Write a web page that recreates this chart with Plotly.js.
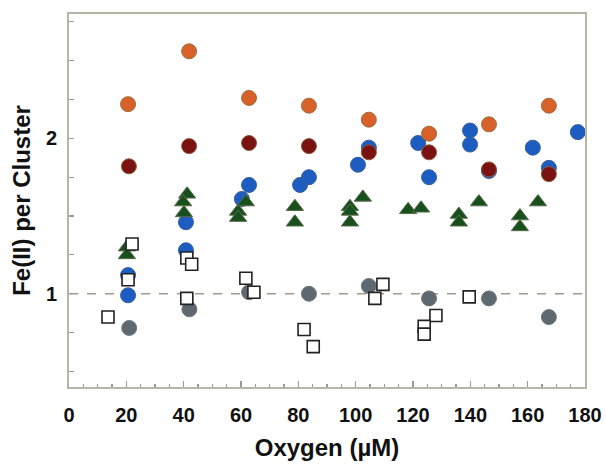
<!DOCTYPE html>
<html>
<head>
<meta charset="utf-8">
<script src="https://cdn.plot.ly/plotly-3.0.1.min.js"></script>
<style>html,body{margin:0;padding:0;background:#fff;}#chart{width:606px;height:464px;}</style>
</head>
<body>
<div id="chart"></div>
<script>
// Oxygen (µM) vs Fe(II) per cluster, by series
const orangeX = [20.6, 41.9, 62.8, 83.7, 104.6, 125.6, 146.5, 167.4];
const orangeY = [2.22, 2.56, 2.26, 2.21, 2.12, 2.03, 2.09, 2.21];

const darkRedX = [20.9, 41.9, 62.8, 83.7, 104.6, 125.6, 146.5, 167.4];
const darkRedY = [1.82, 1.95, 1.97, 1.95, 1.91, 1.91, 1.80, 1.77];

const blueX = [20.6, 20.6, 40.8, 40.8, 60.3, 62.8, 80.6, 83.7, 100.8, 104.6, 121.8, 125.6, 139.9, 139.9, 146.5, 161.8, 167.4, 177.5];
const blueY = [1.12, 0.99, 1.46, 1.28, 1.61, 1.70, 1.70, 1.75, 1.83, 1.94, 1.97, 1.75, 2.05, 1.96, 1.79, 1.94, 1.81, 2.04];

const greenX = [20.2, 20.2, 41.2, 39.8, 40.1, 59.0, 59.0, 61.7, 78.8, 78.8, 98.0, 98.0, 98.0, 102.5, 118.3, 122.8, 136.0, 136.0, 143.0, 157.3, 157.3, 163.6];
const greenY = [1.30, 1.25, 1.64, 1.59, 1.52, 1.53, 1.49, 1.59, 1.56, 1.46, 1.56, 1.53, 1.46, 1.62, 1.54, 1.55, 1.51, 1.46, 1.59, 1.50, 1.43, 1.59];

const grayX = [21.0, 42.0, 62.8, 83.7, 104.6, 125.6, 146.5, 167.4];
const grayY = [0.78, 0.90, 1.01, 1.00, 1.05, 0.97, 0.97, 0.85];

const squareX = [13.6, 22.0, 20.6, 41.1, 42.8, 41.1, 61.7, 64.5, 82.0, 85.2, 109.5, 106.7, 128.0, 123.9, 123.9, 139.6];
const squareY = [0.85, 1.32, 1.09, 1.23, 1.19, 0.97, 1.10, 1.01, 0.77, 0.66, 1.06, 0.97, 0.86, 0.79, 0.74, 0.98];

const xTickVals = [0, 20, 40, 60, 80, 100, 120, 140, 160, 180];
const yTickVals = [1, 2];
const yTickText = ['1', '2'];

function pts(x, y, symbol, size, fill, line, lw) {
  return {x: x, y: y, type: 'scatter', mode: 'markers', hoverinfo: 'skip',
    marker: {symbol: symbol, size: size, color: fill, line: {color: line, width: lw}}};
}

const data = [
  pts(blueX, blueY, 'circle', 15, '#1d5cc0', '#3a5e9a', 1),
  pts(greenX, greenY, 'triangle-up', 15, '#17501d', '#5a6a4a', 1),
  pts(darkRedX, darkRedY, 'circle', 15, '#7a1212', '#8a5a3a', 1),
  pts(orangeX, orangeY, 'circle', 15, '#d8612a', '#9a7040', 1),
  pts(grayX, grayY, 'circle', 15, '#5d6870', '#6e7a80', 1),
  pts(squareX, squareY, 'square', 12, '#ffffff', '#222222', 1.6)
];

const axisColor = '#b6b6a6';
const font = {family: 'Liberation Sans, Arial, sans-serif', color: '#111', size: 20, weight: 'bold'};

const layout = {
  width: 606, height: 464,
  margin: {l: 69, r: 21, t: 14, b: 77},
  paper_bgcolor: '#fff', plot_bgcolor: '#fff',
  showlegend: false,
  font: font,
  xaxis: {
    range: [0, 180], tickvals: xTickVals, ticks: 'inside', ticklen: 6, tickwidth: 1.2, tickcolor: '#999',
    minor: {dtick: 5, tick0: 0, ticks: 'inside', ticklen: 3, tickcolor: '#999', showgrid: false},
    showgrid: false, zeroline: false, showline: true, linecolor: axisColor, linewidth: 2, mirror: true,
    tickfont: {family: font.family, size: 20, weight: 'bold', color: '#111'},
    ticklabelstandoff: 9,
    title: {text: 'Oxygen (\u00b5M)', font: {family: font.family, size: 24, weight: 'bold', color: '#111'}, standoff: 14}
  },
  yaxis: {
    range: [0.4, 2.8], tickvals: yTickVals, ticktext: yTickText, ticks: 'inside', ticklen: 5, tickwidth: 1.2, tickcolor: '#999',
    minor: {dtick: 0.25, tick0: 0, ticks: 'inside', ticklen: 5, tickcolor: '#999', showgrid: false},
    showgrid: false, zeroline: false, showline: true, linecolor: axisColor, linewidth: 2, mirror: true,
    tickfont: {family: font.family, size: 20, weight: 'bold', color: '#111'},
    ticklabelstandoff: 6,
    title: {text: 'Fe(II) per Cluster', font: {family: font.family, size: 24, weight: 'bold', color: '#111'}, standoff: 8}
  },
  shapes: [{type: 'line', xref: 'paper', yref: 'y', x0: 0, x1: 1, y0: 1, y1: 1,
    line: {color: '#a09c8c', width: 1.3, dash: 'dash'}, layer: 'below'}]
};

Plotly.newPlot('chart', data, layout, {displayModeBar: false, staticPlot: true});
</script>
</body>
</html>
